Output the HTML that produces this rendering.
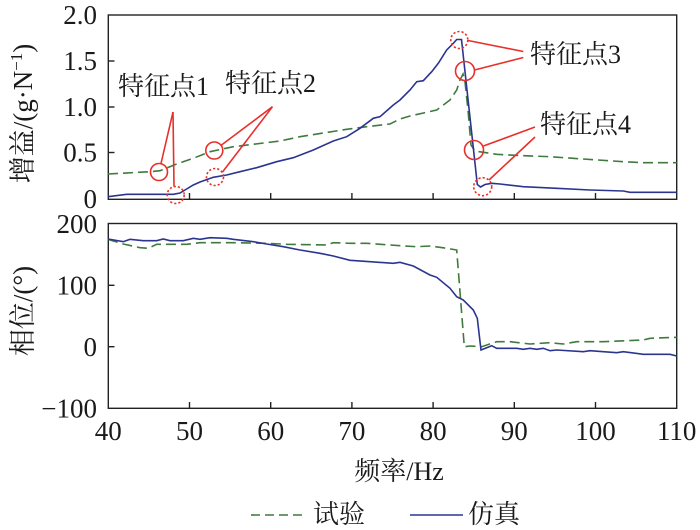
<!DOCTYPE html>
<html><head><meta charset="utf-8">
<style>
html,body{margin:0;padding:0;background:#fff;}
svg{display:block;}
text{font-family:"Liberation Serif","Noto Serif CJK SC",serif;fill:#1a1a1a;}
</style></head>
<body>
<svg width="700" height="530" viewBox="0 0 700 530" xmlns="http://www.w3.org/2000/svg">
<!-- Top panel frame -->
<rect x="108.3" y="15" width="568.4" height="184.3" fill="none" stroke="#222" stroke-width="1.4"/>
<!-- Top panel ticks -->
<g stroke="#222" stroke-width="1.4">
<line x1="108.3" y1="61" x2="114.5" y2="61"/>
<line x1="108.3" y1="107" x2="114.5" y2="107"/>
<line x1="108.3" y1="152.5" x2="114.5" y2="152.5"/>
<line x1="189.5" y1="199.3" x2="189.5" y2="193"/>
<line x1="270.7" y1="199.3" x2="270.7" y2="193"/>
<line x1="351.9" y1="199.3" x2="351.9" y2="193"/>
<line x1="433.1" y1="199.3" x2="433.1" y2="193"/>
<line x1="514.3" y1="199.3" x2="514.3" y2="193"/>
<line x1="595.5" y1="199.3" x2="595.5" y2="193"/>
</g>
<!-- Top tick labels -->
<g font-size="27" text-anchor="end">
<text x="97" y="24">2.0</text>
<text x="97" y="70">1.5</text>
<text x="97" y="116">1.0</text>
<text x="97" y="161.5">0.5</text>
<text x="97" y="208">0</text>
</g>
<!-- Top curves -->
<polyline fill="none" stroke="#3f7a3f" stroke-width="1.6" stroke-dasharray="10,5" points="108,174 150,171.7 160,170.7 176.7,164 193.3,158.3 210,151.7 233.3,146.7 280,141 300,136.7 346.7,129.3 366.7,126.7 390,124 400,119 410,116 436.7,110 450,100 456.7,90 460,80 463,74 465,82 468,110 471,145 475,151 490,153.3 496.7,154.3 523.3,155.7 550,156.7 583,159 623.3,161.7 643,162.7 676.7,162.7"/>
<polyline fill="none" stroke="#2b3590" stroke-width="1.6" points="108,196.7 126.7,194.3 173.3,194.3 180,193 185,190 193.3,185 200,182 213.3,177.3 226.7,175 240,171.7 256.7,167.7 276.7,161.7 293.3,157.7 313.3,150 333.3,141 346.7,136.7 360,128.3 373.3,118.3 380,116.7 393.3,105 400,100 410,90 416.7,81.7 423.3,80.7 431.7,71.7 438.3,63.3 446.7,50 453.3,43.3 456.7,39.5 461.5,39.5 477.3,184.5 480.5,187 485,184.5 491.7,183.3 500,184 523.3,186.7 556.7,188.3 590,190 623.3,191 630,192.3 676.7,192.3"/>
<!-- Annotations -->
<g stroke="#e8302a" stroke-width="1.6" fill="none">
<circle cx="159" cy="172" r="8.5"/>
<circle cx="175.7" cy="195" r="8.5" stroke-dasharray="2.2,2"/>
<circle cx="214.3" cy="150.5" r="8.5"/>
<circle cx="215" cy="177" r="8.5" stroke-dasharray="2.2,2"/>
<circle cx="459.3" cy="40" r="8.5" stroke-dasharray="2.2,2"/>
<circle cx="465" cy="71" r="9.5"/>
<circle cx="474" cy="150" r="9.5"/>
<circle cx="482.7" cy="186.7" r="9" stroke-dasharray="2.2,2"/>
<line x1="173" y1="112" x2="161" y2="163.5"/>
<line x1="173" y1="112" x2="174" y2="186.5"/>
<line x1="272.5" y1="106.7" x2="221.5" y2="145"/>
<line x1="272.5" y1="106.7" x2="222.5" y2="172"/>
<line x1="468" y1="40.5" x2="523.3" y2="51.5"/>
<line x1="474.5" y1="70" x2="523.3" y2="57.5"/>
<line x1="483.5" y1="146" x2="535" y2="127"/>
<line x1="489" y1="180" x2="535" y2="137"/>
</g>
<g font-size="26">
<text x="118" y="95">特征点1</text>
<text x="225" y="92">特征点2</text>
<text x="530" y="63">特征点3</text>
<text x="540" y="133">特征点4</text>
</g>
<!-- Top y label -->
<text font-size="27" text-anchor="middle" transform="translate(32,113.5) rotate(-90)">增益/(g·N<tspan font-size="17" dy="-10">−1</tspan><tspan dy="10">)</tspan></text>

<!-- Bottom panel frame -->
<rect x="108.3" y="223.5" width="568.4" height="184.8" fill="none" stroke="#222" stroke-width="1.4"/>
<g stroke="#222" stroke-width="1.4">
<line x1="108.3" y1="285.3" x2="114.5" y2="285.3"/>
<line x1="108.3" y1="346.7" x2="114.5" y2="346.7"/>
<line x1="189.5" y1="408.3" x2="189.5" y2="402"/>
<line x1="270.7" y1="408.3" x2="270.7" y2="402"/>
<line x1="351.9" y1="408.3" x2="351.9" y2="402"/>
<line x1="433.1" y1="408.3" x2="433.1" y2="402"/>
<line x1="514.3" y1="408.3" x2="514.3" y2="402"/>
<line x1="595.5" y1="408.3" x2="595.5" y2="402"/>
</g>
<g font-size="27" text-anchor="end">
<text x="97" y="233">200</text>
<text x="97" y="294.5">100</text>
<text x="97" y="356">0</text>
<text x="97" y="417.5">−100</text>
</g>
<g font-size="27" text-anchor="middle">
<text x="108.3" y="440">40</text>
<text x="189.5" y="440">50</text>
<text x="270.7" y="440">60</text>
<text x="351.9" y="440">70</text>
<text x="433.1" y="440">80</text>
<text x="514.3" y="440">90</text>
<text x="595.5" y="440">100</text>
<text x="676.7" y="440">110</text>
</g>
<polyline fill="none" stroke="#3f7a3f" stroke-width="1.6" stroke-dasharray="10,5" points="108,239.3 123.3,244 140,247.7 148.3,248.3 156.7,244.3 186.7,244.3 200,242.7 233.3,242.7 266.7,243.3 286.7,244.3 300,244.5 326.7,245 333.3,242.7 350,243.3 366.7,243.3 400,245.7 416.7,246.7 430,246 446.7,248.3 456.7,250 464.3,346.7 470,346 481.7,346.7 496.7,341.7 510,341.7 530,344 550,342.7 563.3,344 576.7,341.7 603.3,341.7 643.3,340 650,338.3 676.7,337.3"/>
<polyline fill="none" stroke="#2b3590" stroke-width="1.6" points="108,239 123.3,241.7 130,239.3 143.3,240.7 156.7,240.7 163.3,239 170,240.7 183.3,240.7 193.3,238.3 200,239.3 210,237.7 226.7,238.3 233.3,239.3 253.3,241.7 266.7,244 283.3,246.7 300,250 320,253.3 333.3,256 350,260.3 370,261.7 393.3,263.3 400,262.3 413.3,266 430,275 436.7,277.3 450,288.3 456.7,296.7 463.3,300 473.3,310 477.3,318.3 481,350 486.7,347.7 491.7,345.7 496.7,348.3 516.7,348.3 523.3,349.3 530,348.3 536.7,349.3 543.3,348.3 550,350.7 556.7,350 583.3,351.7 590,350.7 616.7,352.7 623.3,351.7 643.3,354.3 670,354.3 676.7,356"/>
<text font-size="27" text-anchor="middle" transform="translate(32,311) rotate(-90)">相位/(°)</text>

<!-- X label -->
<text font-size="26" x="399" y="480" text-anchor="middle">频率/Hz</text>

<!-- Legend -->
<line x1="251" y1="515" x2="306" y2="515" stroke="#3f7a3f" stroke-width="1.6" stroke-dasharray="9,5"/>
<text font-size="26" x="313" y="523">试验</text>
<line x1="410" y1="515" x2="463" y2="515" stroke="#2b3590" stroke-width="1.6"/>
<text font-size="26" x="468" y="523">仿真</text>
</svg>
</body></html>
